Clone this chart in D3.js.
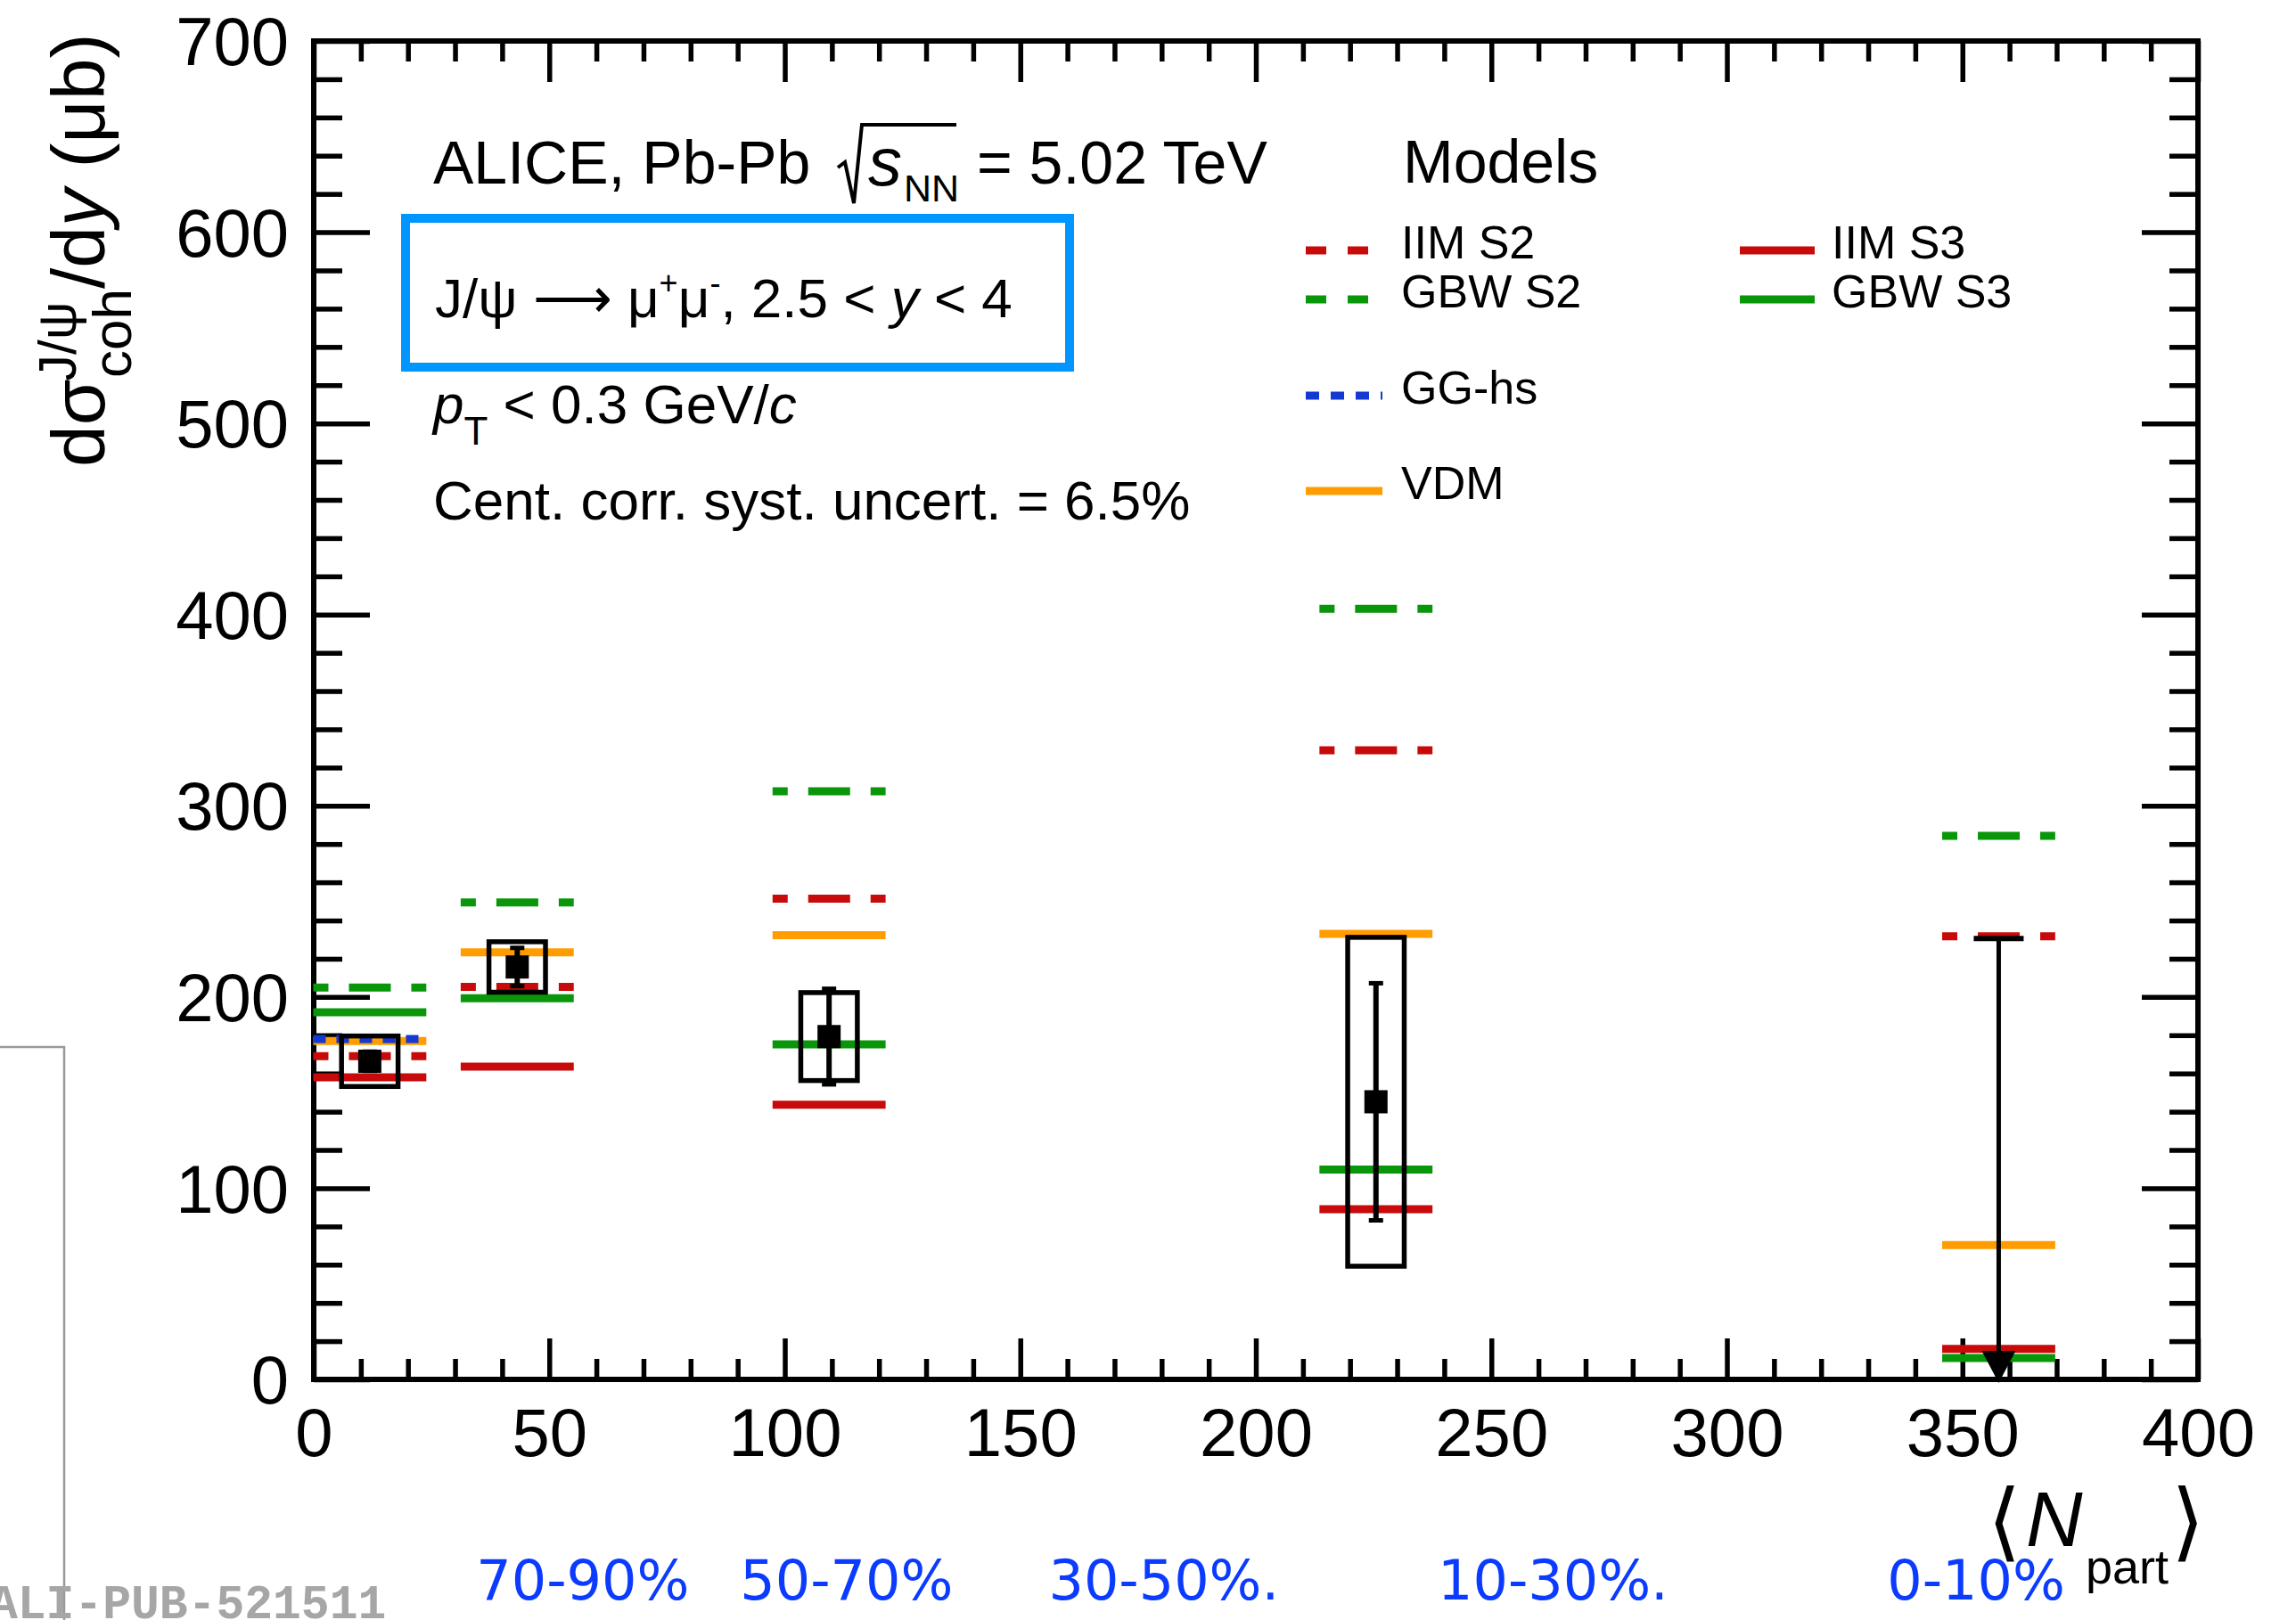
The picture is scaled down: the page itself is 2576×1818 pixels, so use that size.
<!DOCTYPE html>
<html>
<head>
<meta charset="utf-8">
<script src="https://cdn.jsdelivr.net/npm/d3@7"></script>
<style>
  body { margin: 0; background: #fff; }
  svg text { font-family: "Liberation Sans", Arial, Helvetica, sans-serif; fill: #000; }
</style>
</head>
<body>
<div id="chart"></div>
<script>
// centrality classes and <Npart>
const centralities = ["70-90%", "50-70%", "30-50%.", "10-30%.", "0-10%"];
const nPart = [11.9, 43.2, 109.4, 225.5, 357.7];

// measured coherent J/psi cross section (ub)
const sigma = [166.4, 215.7, 179.3, 145.2, null];
const statErr = [5, 10, 25, 62, null];
const systErr = [13.2, 13.2, 23, 86, null];
const upperLimit = [null, null, null, null, 230.6];

// model predictions (ub)
const iimS2 = [169, 205.3, 251.4, 329, 231.7];
const iimS3 = [158, 163.6, 143.7, 89, 16];
const gbwS2 = [205, 249.4, 307.6, 403, 284.3];
const gbwS3 = [192, 199.3, 175.2, 109.7, 11.2];
const vdm = [177, 223.4, 232.3, 233, 70.2];
const ggHs = [178, null, null, null, null];

const xTicks = [0, 50, 100, 150, 200, 250, 300, 350, 400];
const yTicks = [0, 100, 200, 300, 400, 500, 600, 700];

const width = 2576, height = 1818;
const margin = {top: 46, right: 110, bottom: 270, left: 352};

const svg = d3.select("#chart")
  .append("svg")
  .attr("width", width)
  .attr("height", height)
  .style("display", "block");

svg.append("rect").attr("width", width).attr("height", height).attr("fill", "#fff");

const xScale = d3.scaleLinear().domain([0, 400]).range([margin.left, width - margin.right]);
const yScale = d3.scaleLinear().domain([0, 700]).range([height - margin.bottom, margin.top]);

const colors = {red: "#c80a0a", green: "#0a960a", orange: "#ff9c00", blue: "#1438d2"};

/* axes: ROOT style, ticks inside on all four sides */
const xMinor = d3.range(0, 401, 10).filter(d => d % 50 !== 0);
const yMinor = d3.range(0, 701, 20).filter(d => d % 100 !== 0);

const styleAxis = g => {
  g.select(".domain").remove();
  g.selectAll("line").attr("stroke", "#000").attr("stroke-width", 5.5);
  g.selectAll("text").attr("font-size", 76).attr("fill", "#000");
};

const bottomY = height - margin.bottom, rightX = width - margin.right;

svg.append("g").attr("transform", `translate(0,${bottomY})`)
  .call(d3.axisBottom(xScale).tickValues(xTicks).tickSize(-46).tickPadding(32).tickFormat(d3.format("d")))
  .call(styleAxis);
svg.append("g").attr("transform", `translate(0,${bottomY})`)
  .call(d3.axisBottom(xScale).tickValues(xMinor).tickSize(-23).tickFormat(""))
  .call(styleAxis);
svg.append("g").attr("transform", `translate(0,${margin.top})`)
  .call(d3.axisTop(xScale).tickValues(xTicks).tickSize(-46).tickFormat(""))
  .call(styleAxis);
svg.append("g").attr("transform", `translate(0,${margin.top})`)
  .call(d3.axisTop(xScale).tickValues(xMinor).tickSize(-23).tickFormat(""))
  .call(styleAxis);

svg.append("g").attr("transform", `translate(${margin.left},0)`)
  .call(d3.axisLeft(yScale).tickValues(yTicks).tickSize(-63).tickPadding(28).tickFormat(d3.format("d")))
  .call(styleAxis)
  .selectAll("text").attr("dy", "0.35em");
svg.append("g").attr("transform", `translate(${margin.left},0)`)
  .call(d3.axisLeft(yScale).tickValues(yMinor).tickSize(-32).tickFormat(""))
  .call(styleAxis);
svg.append("g").attr("transform", `translate(${rightX},0)`)
  .call(d3.axisRight(yScale).tickValues(yTicks).tickSize(-63).tickFormat(""))
  .call(styleAxis);
svg.append("g").attr("transform", `translate(${rightX},0)`)
  .call(d3.axisRight(yScale).tickValues(yMinor).tickSize(-32).tickFormat(""))
  .call(styleAxis);

svg.append("rect")
  .attr("x", margin.left).attr("y", margin.top)
  .attr("width", rightX - margin.left).attr("height", bottomY - margin.top)
  .attr("fill", "none").attr("stroke", "#000").attr("stroke-width", 6);

/* model predictions: short horizontal lines +-12 around <Npart> */
const models = [
  {name: "GBW S2", values: gbwS2, color: colors.green, style: "dash"},
  {name: "IIM S2", values: iimS2, color: colors.red, style: "dash"},
  {name: "VDM", values: vdm, color: colors.orange, style: "solid"},
  {name: "GG-hs", values: ggHs, color: colors.blue, style: "dot"},
  {name: "GBW S3", values: gbwS3, color: colors.green, style: "solid"},
  {name: "IIM S3", values: iimS3, color: colors.red, style: "solid"}
];
const halfW = 12;

models.forEach(m => {
  const pts = m.values.map((v, i) => ({n: nPart[i], v})).filter(d => d.v !== null);
  svg.append("g")
    .selectAll("line")
    .data(pts)
    .join("line")
      .attr("x1", d => xScale(d.n - halfW))
      .attr("x2", d => xScale(d.n + halfW))
      .attr("y1", d => yScale(d.v))
      .attr("y2", d => yScale(d.v))
      .attr("stroke", m.color)
      .attr("stroke-width", 9)
      .attr("stroke-dasharray", m.style === "dash" ? "47 23" : m.style === "dot" ? "14 12" : null)
      .attr("stroke-dashoffset", m.style === "dash" ? 30 : 0);
});

/* data points */
const data = sigma.map((v, i) => ({n: nPart[i], v, stat: statErr[i], syst: systErr[i]})).filter(d => d.v !== null);
const boxHalf = 6;
const dataG = svg.append("g");

dataG.selectAll("rect.syst")
  .data(data)
  .join("rect")
    .attr("class", "syst")
    .attr("x", d => xScale(d.n - boxHalf))
    .attr("y", d => yScale(d.v + d.syst))
    .attr("width", d => xScale(d.n + boxHalf) - xScale(d.n - boxHalf))
    .attr("height", d => yScale(d.v - d.syst) - yScale(d.v + d.syst))
    .attr("fill", "none").attr("stroke", "#000").attr("stroke-width", 5.5);

dataG.selectAll("line.stat")
  .data(data)
  .join("line")
    .attr("class", "stat")
    .attr("x1", d => xScale(d.n)).attr("x2", d => xScale(d.n))
    .attr("y1", d => yScale(d.v - d.stat)).attr("y2", d => yScale(d.v + d.stat))
    .attr("stroke", "#000").attr("stroke-width", 6);

["up", "down"].forEach(side => {
  dataG.selectAll(`line.cap-${side}`)
    .data(data)
    .join("line")
      .attr("class", `cap-${side}`)
      .attr("x1", d => xScale(d.n) - 8).attr("x2", d => xScale(d.n) + 8)
      .attr("y1", d => yScale(side === "up" ? d.v + d.stat : d.v - d.stat))
      .attr("y2", d => yScale(side === "up" ? d.v + d.stat : d.v - d.stat))
      .attr("stroke", "#000").attr("stroke-width", 5);
});

dataG.selectAll("rect.marker")
  .data(data)
  .join("rect")
    .attr("class", "marker")
    .attr("x", d => xScale(d.n) - 13).attr("y", d => yScale(d.v) - 13)
    .attr("width", 26).attr("height", 26).attr("fill", "#000");

/* upper limit for 0-10% */
const limits = upperLimit.map((v, i) => ({n: nPart[i], v})).filter(d => d.v !== null);
limits.forEach(d => {
  const x = xScale(d.n), yTop = yScale(d.v), yTip = yScale(0) + 4;
  dataG.append("line").attr("x1", x - 28).attr("x2", x + 28).attr("y1", yTop).attr("y2", yTop)
    .attr("stroke", "#000").attr("stroke-width", 6);
  dataG.append("line").attr("x1", x).attr("x2", x).attr("y1", yTop).attr("y2", yTip - 30)
    .attr("stroke", "#000").attr("stroke-width", 5);
  dataG.append("path").attr("d", `M${x - 19},${yTip - 36}L${x + 19},${yTip - 36}L${x},${yTip}Z`).attr("fill", "#000");
});

/* texts inside the frame */
const tx = 486;
svg.append("text").attr("x", tx).attr("y", 206).attr("font-size", 68).text("ALICE, Pb-Pb");
svg.append("path").attr("d", "M940,188L948,182L958,228L967,140L1073,140")
  .attr("fill", "none").attr("stroke", "#000").attr("stroke-width", 4);
svg.append("text").attr("x", 974).attr("y", 208).attr("font-size", 76).attr("font-style", "italic").text("s");
svg.append("text").attr("x", 1014).attr("y", 226).attr("font-size", 43).text("NN");
svg.append("text").attr("x", 1096).attr("y", 206).attr("font-size", 68).text("= 5.02 TeV");

svg.append("rect").attr("x", 455).attr("y", 245).attr("width", 745).attr("height", 167)
  .attr("fill", "none").attr("stroke", "#0096ff").attr("stroke-width", 10);

const decay = svg.append("text").attr("x", 488).attr("y", 356).attr("font-size", 62);
decay.append("tspan").text("J/ψ ⟶ μ");
decay.append("tspan").attr("font-size", 36).attr("dy", -26).text("+");
decay.append("tspan").attr("dy", 26).text("μ");
decay.append("tspan").attr("font-size", 36).attr("dy", -26).text("-");
decay.append("tspan").attr("dy", 26).text(", 2.5 < ");
decay.append("tspan").attr("font-style", "italic").text("y");
decay.append("tspan").text(" < 4");

const pt = svg.append("text").attr("x", tx).attr("y", 475).attr("font-size", 62);
pt.append("tspan").attr("font-style", "italic").text("p");
pt.append("tspan").attr("font-size", 44).attr("dy", 24).text("T");
pt.append("tspan").attr("dy", -24).text(" < 0.3 GeV/");
pt.append("tspan").attr("font-style", "italic").text("c");

svg.append("text").attr("x", tx).attr("y", 583).attr("font-size", 62).text("Cent. corr. syst. uncert. = 6.5%");

/* legend */
svg.append("text").attr("x", 1574).attr("y", 205).attr("font-size", 68).text("Models");
const legendItems = [
  {name: "IIM S2", color: colors.red, style: "dash", x: 1465, len: 70, tx: 1572, y: 290},
  {name: "GBW S2", color: colors.green, style: "dash", x: 1465, len: 70, tx: 1572, y: 345},
  {name: "GG-hs", color: colors.blue, style: "dot", x: 1465, len: 86, tx: 1572, y: 453},
  {name: "VDM", color: colors.orange, style: "solid", x: 1465, len: 86, tx: 1572, y: 560},
  {name: "IIM S3", color: colors.red, style: "solid", x: 1952, len: 84, tx: 2055, y: 290},
  {name: "GBW S3", color: colors.green, style: "solid", x: 1952, len: 84, tx: 2055, y: 345}
];
const leg = svg.append("g").selectAll("g").data(legendItems).join("g");
leg.append("line")
  .attr("x1", d => d.x).attr("x2", d => d.x + d.len)
  .attr("y1", d => d.y - 9).attr("y2", d => d.y - 9)
  .attr("stroke", d => d.color).attr("stroke-width", 9)
  .attr("stroke-dasharray", d => d.style === "dash" ? "23 24" : d.style === "dot" ? "15 13" : null);
leg.append("text").attr("x", d => d.tx).attr("y", d => d.y).attr("font-size", 52).text(d => d.name);

/* axis titles */
const yTitle = svg.append("g").attr("transform", "translate(117,524) rotate(-90)");
yTitle.append("text").attr("x", 0).attr("y", 0).attr("font-size", 84).text("dσ");
yTitle.append("text").attr("x", 96).attr("y", -32).attr("font-size", 60).text("J/ψ");
yTitle.append("text").attr("x", 100).attr("y", 30).attr("font-size", 62).text("coh");
const yt = yTitle.append("text").attr("x", 200).attr("y", 0).attr("font-size", 84);
yt.append("tspan").text("/d");
yt.append("tspan").attr("font-style", "italic").text("y");
yt.append("tspan").text(" (μb)");

const bracketFont = "'DejaVu Sans', sans-serif";
svg.append("text").attr("x", 2230).attr("y", 1740).attr("font-size", 96)
  .style("font-family", bracketFont).text("⟨");
svg.append("text").attr("x", 2273).attr("y", 1735).attr("font-size", 88).attr("font-style", "italic").text("N");
svg.append("text").attr("x", 2340).attr("y", 1777).attr("font-size", 54).text("part");
svg.append("text").attr("x", 2436).attr("y", 1740).attr("font-size", 96)
  .style("font-family", bracketFont).text("⟩");

/* centrality annotations below the axis */
const centLabelAt = [34.5, 90.5, 156, 238.6, 334];
svg.append("g").selectAll("text")
  .data(centralities)
  .join("text")
    .attr("x", (d, i) => xScale(centLabelAt[i]))
    .attr("y", 1795)
    .attr("font-size", 62)
    .style("font-family", "'DejaVu Sans', sans-serif")
    .style("fill", "#0b3bff")
    .text(d => d);

/* leftover frame and figure id at bottom left */
svg.append("path").attr("d", "M0,1175H72V1818").attr("fill", "none").attr("stroke", "#999").attr("stroke-width", 2.5);
svg.append("text").attr("x", -12).attr("y", 1816).attr("font-size", 53)
  .style("font-family", "'Liberation Mono', 'DejaVu Sans Mono', monospace").attr("font-weight", "bold")
  .style("fill", "#a6a6a6").text("ALI-PUB-521511");
</script>
</body>
</html>
